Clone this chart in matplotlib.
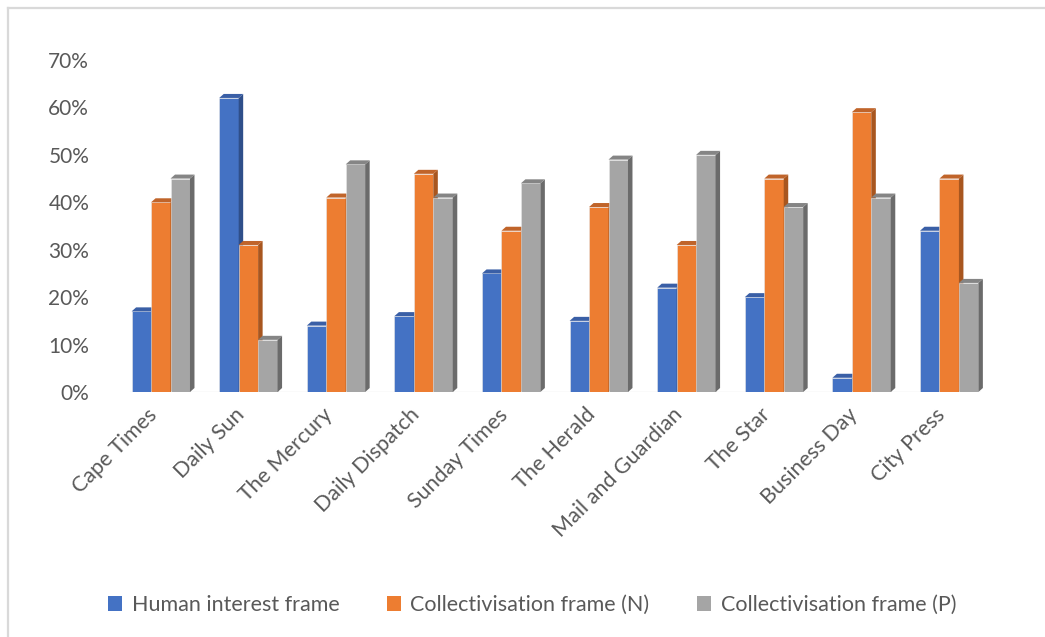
import numpy as np
import matplotlib.pyplot as plt
import matplotlib.transforms as mtransforms
from matplotlib.patches import Polygon, Patch
from matplotlib.lines import Line2D

plt.rcParams['font.family'] = ['Lato', 'DejaVu Sans']

# data
papers = ["Cape Times", "Daily Sun", "The Mercury", "Daily Dispatch", "Sunday Times",
          "The Herald", "Mail and Guardian", "The Star", "Business Day", "City Press"]
human_interest = [0.17, 0.62, 0.14, 0.16, 0.25, 0.15, 0.22, 0.20, 0.03, 0.34]
collect_n = [0.40, 0.31, 0.41, 0.46, 0.34, 0.39, 0.31, 0.45, 0.59, 0.45]
collect_p = [0.45, 0.11, 0.48, 0.41, 0.44, 0.49, 0.50, 0.39, 0.41, 0.23]
series_names = ["Human interest frame", "Collectivisation frame (N)", "Collectivisation frame (P)"]

front = ["#4472C4", "#ED7D31", "#A5A5A5"]
side = ["#2F4F8A", "#A8561F", "#6B6B6B"]
top = ["#3A5FA6", "#C0642A", "#858585"]
text_col = "#595959"

W, H = 1045, 637
fig = plt.figure(figsize=(W / 100, H / 100), dpi=100)

# light frame around the chart area (left + top only visible)
fig.add_artist(Line2D([8 / W, 8 / W], [0, 1 - 8 / H], color="#D9D9D9", lw=1.6))
fig.add_artist(Line2D([8 / W, 1], [1 - 8 / H, 1 - 8 / H], color="#D9D9D9", lw=1.6))

ax_l, ax_r, ax_t, ax_b = 117, 993, 60, 392
ax = fig.add_axes([ax_l / W, 1 - ax_b / H, (ax_r - ax_l) / W, (ax_b - ax_t) / H])
ax.set_xlim(-0.5, len(papers) - 0.5)
ax.set_ylim(0, 0.70)

# depth of the fake 3d bars in pixels, turned into data units
px_x = (ax_r - ax_l) / len(papers)
px_y = (ax_b - ax_t) / 0.70
dx = 4.5 / px_x
dy = 4.0 / px_y

bw = 0.222
x = np.arange(len(papers))
series = [human_interest, collect_n, collect_p]

z = 2
for i in range(len(papers)):
    for k, vals in enumerate(series):
        h = vals[i]
        x0 = x[i] + (k - 1.5) * bw
        x1 = x0 + bw
        ax.bar(x0, h, width=bw, align='edge', color=front[k], edgecolor="#E8E8E8",
               linewidth=0.4, zorder=z)
        ax.add_patch(Polygon([(x1, 0), (x1 + dx, dy), (x1 + dx, h + dy), (x1, h)],
                             closed=True, facecolor=side[k], edgecolor="none", zorder=z))
        ax.add_patch(Polygon([(x0, h), (x0 + dx, h + dy), (x1 + dx, h + dy), (x1, h)],
                             closed=True, facecolor=top[k], edgecolor="none", zorder=z))
        z += 1

ax.plot([-0.35, 9.35], [0, 0], color="#E6E6E6", lw=1.0, zorder=1)

for s in ax.spines.values():
    s.set_visible(False)

ax.set_yticks(np.arange(0, 0.71, 0.1))
ax.set_yticklabels([f"{int(round(v * 100))}%" for v in np.arange(0, 0.71, 0.1)])
ax.tick_params(axis='y', length=0, pad=20, labelsize=15, labelcolor=text_col)

ax.set_xticks(x)
ax.set_xticklabels(papers, rotation=45, ha='right', rotation_mode='anchor')
ax.tick_params(axis='x', length=0, pad=9, labelsize=15.5, labelcolor=text_col)
shift = mtransforms.ScaledTranslation(-10 / 72, 0, fig.dpi_scale_trans)
for lab in ax.get_xticklabels():
    lab.set_transform(lab.get_transform() + shift)

handles = [Patch(facecolor=c, edgecolor='none') for c in front]
fig.legend(handles, series_names, loc='center', bbox_to_anchor=(532 / W, 1 - 605 / H),
           ncol=3, frameon=False, fontsize=15.5, labelcolor=text_col,
           handlelength=0.65, handleheight=0.65, handletextpad=0.45, columnspacing=2.2)

fig.savefig("out.png", dpi=100)
